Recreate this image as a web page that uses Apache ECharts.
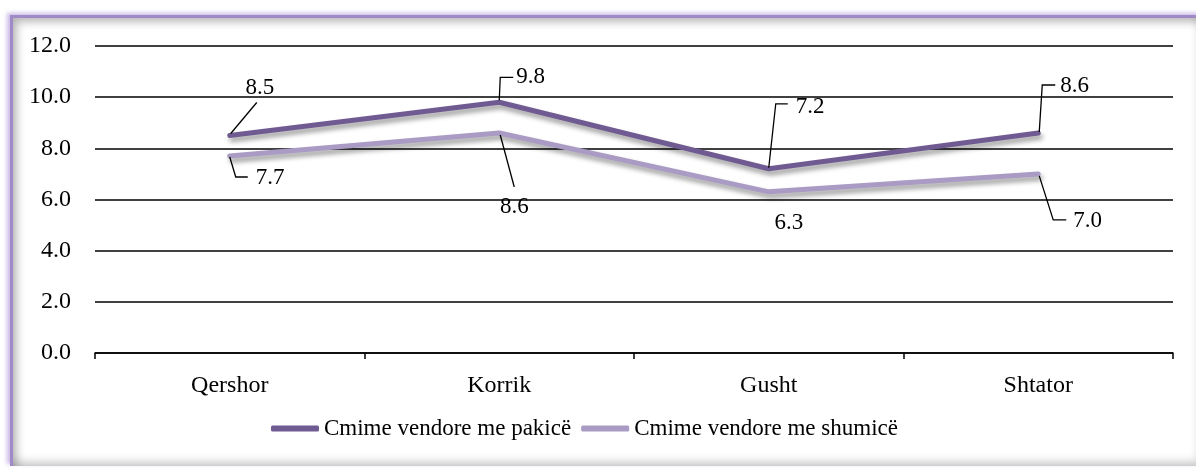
<!DOCTYPE html>
<html>
<head>
<meta charset="utf-8">
<script src="https://cdn.jsdelivr.net/npm/echarts@6/dist/echarts.min.js"></script>
<style>
  html, body { margin: 0; padding: 0; background: #fff; width: 1196px; height: 472px; overflow: hidden; }
  #frame {
    position: absolute; left: 10px; top: 15px; width: 1190px; height: 448px;
    border-top: 3px solid #9f89c6; border-left: 3px solid #9f89c6;
    box-shadow: -3px -2px 4px rgba(190,170,225,0.8), inset 4px 4px 8px rgba(0,0,0,0.28), inset -5px -5px 8px rgba(0,0,0,0.18);
    background: #fff;
  }
  #chart { position: absolute; left: 0; top: 0; width: 1196px; height: 472px; }
</style>
</head>
<body>
<div id="frame"></div>
<div id="chart"></div>
<script>
// ---- data ----
var categories = ['Qershor', 'Korrik', 'Gusht', 'Shtator'];
var seriesNames = ['Cmime vendore me pakicë', 'Cmime vendore me shumicë'];
var pakice = [8.5, 9.8, 7.2, 8.6];
var shumice = [7.7, 8.6, 6.3, 7.0];
var yTicks = [0, 2, 4, 6, 8, 10, 12];

// ---- label leader styling (pixel offsets from the point) ----
var leadersPakice = [
  { path: [[1, -2], [27, -33]], text: [30, -48], align: 'center' },
  { path: [[0, -2], [1, -25], [14, -25]], text: [17, -25], align: 'left' },
  { path: [[0, -1], [7, -65], [19, -65]], text: [27, -62], align: 'left' },
  { path: [[1, -1], [4, -48], [17, -48]], text: [22, -47], align: 'left' }
];
var leadersShumice = [
  { path: [[0, 1], [6, 21], [18, 21]], text: [26, 22], align: 'left' },
  { path: [[1, 2], [15, 54]], text: [15, 74], align: 'center' },
  { path: null, text: [20, 31], align: 'center' },
  { path: [[1, 2], [15, 46], [28, 46]], text: [35, 47], align: 'left' }
];

var FONT = '"Liberation Serif", serif';
var FS = 23;
var FS_AXIS = 24;
var darkColor = '#705a92';
var lightColor = '#a99bc3';

function pairs(arr) { return arr.map(function (v, i) { return [i, v]; }); }

function makeLabelRenderer(leaders) {
  return function (params, api) {
    var pt = api.coord([api.value(0), api.value(1)]);
    var spec = leaders[params.dataIndex];
    var children = [];
    if (spec.path) {
      children.push({
        type: 'polyline',
        shape: { points: spec.path.map(function (p) { return [pt[0] + p[0], pt[1] + p[1]]; }) },
        style: { stroke: '#000', lineWidth: 1.3, fill: null }
      });
    }
    children.push({
      type: 'text',
      x: pt[0] + spec.text[0], y: pt[1] + spec.text[1],
      style: {
        text: api.value(1).toFixed(1), fill: '#000', fontSize: FS, fontFamily: FONT,
        align: spec.align, verticalAlign: 'middle'
      }
    });
    return { type: 'group', children: children };
  };
}

var lineShadow = { shadowColor: 'rgba(0,0,0,0.4)', shadowBlur: 5, shadowOffsetX: 2, shadowOffsetY: 4 };

var chart = echarts.init(document.getElementById('chart'), null, { renderer: 'canvas' });
chart.setOption({
  backgroundColor: 'transparent',
  animation: false,
  textStyle: { fontFamily: FONT, fontSize: FS, color: '#000' },
  grid: { left: 95, right: 23, top: 46, bottom: 119, containLabel: false },
  legend: {
    data: seriesNames,
    left: 266, top: 412,
    icon: 'roundRect', itemWidth: 48, itemHeight: 6, itemGap: 10,
    textStyle: { fontFamily: FONT, fontSize: FS, color: '#000' }
  },
  xAxis: {
    type: 'category', data: categories, boundaryGap: true,
    axisLine: { lineStyle: { color: '#000', width: 1.5 } },
    axisTick: { show: true, length: 6, lineStyle: { color: '#000', width: 1.5 } },
    axisLabel: { color: '#000', fontSize: FS_AXIS, fontFamily: FONT, margin: 21 }
  },
  yAxis: {
    type: 'value', min: yTicks[0], max: yTicks[yTicks.length - 1], interval: 2,
    axisLine: { show: false }, axisTick: { show: false },
    axisLabel: { color: '#000', fontSize: FS_AXIS, fontFamily: FONT, margin: 24, formatter: function (v) { return v.toFixed(1); } },
    splitLine: { lineStyle: { color: '#000', width: 1.5 } }
  },
  series: [
    {
      name: seriesNames[0], type: 'line', data: pakice, showSymbol: false, symbol: 'none',
      lineStyle: Object.assign({ color: darkColor, width: 5, cap: 'round', join: 'round' }, lineShadow),
      itemStyle: { color: darkColor }, z: 3
    },
    {
      name: seriesNames[1], type: 'line', data: shumice, showSymbol: false, symbol: 'none',
      lineStyle: Object.assign({ color: lightColor, width: 5, cap: 'round', join: 'round' }, lineShadow),
      itemStyle: { color: lightColor }, z: 2
    },
    { type: 'custom', data: pairs(pakice), renderItem: makeLabelRenderer(leadersPakice), z: 5, silent: true },
    { type: 'custom', data: pairs(shumice), renderItem: makeLabelRenderer(leadersShumice), z: 5, silent: true }
  ]
});
</script>
</body>
</html>
